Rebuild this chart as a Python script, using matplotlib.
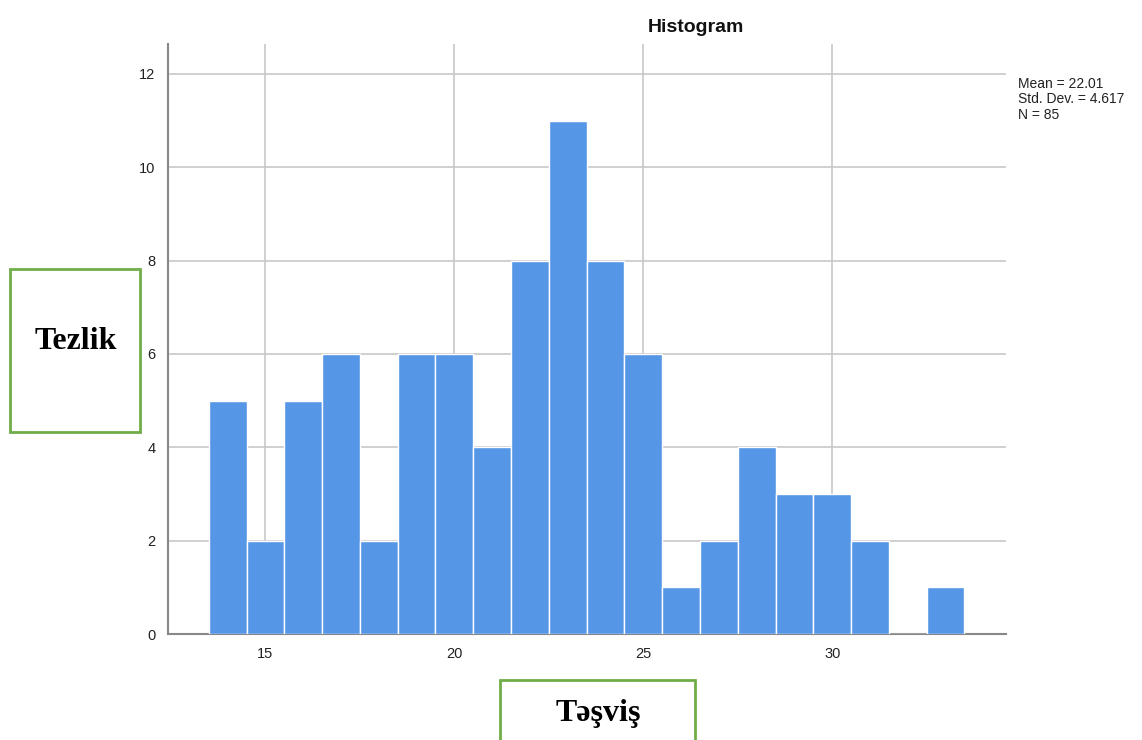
import numpy as np
import matplotlib.pyplot as plt
from matplotlib.patches import Rectangle

# histogram bins (centres) and counts
bin_centres = [14, 15, 16, 17, 18, 19, 20, 21, 22, 23, 24, 25, 26, 27, 28, 29, 30, 31, 32, 33]
counts = [5, 2, 5, 6, 2, 6, 6, 4, 8, 11, 8, 6, 1, 2, 4, 3, 3, 2, 0, 1]
x_ticks = [15, 20, 25, 30]
y_ticks = [0, 2, 4, 6, 8, 10, 12]
stats_text = "Mean = 22.01\nStd. Dev. = 4.617\nN = 85"

plt.rcParams['font.family'] = ['Liberation Sans', 'DejaVu Sans']

W, H = 1142, 740
fig = plt.figure(figsize=(W / 100, H / 100), dpi=100)
ax = fig.add_axes([168 / W, 1 - 634 / H, (1006 - 168) / W, (634 - 44) / H])

ax.bar(bin_centres, counts, width=1.0, color='#5596e6', edgecolor='white',
       linewidth=1.0, zorder=3)

ax.set_xlim(12.42, 34.6)
ax.set_ylim(0, 12.64)
ax.set_xticks(x_ticks)
ax.set_yticks(y_ticks)
ax.grid(True, color='#c8c8c8', linewidth=1.2, zorder=0)
ax.tick_params(length=0, labelsize=10.5, colors='#222222', pad=9)
for s in ['top', 'right']:
    ax.spines[s].set_visible(False)
for s in ['left', 'bottom']:
    ax.spines[s].set_color('#888888')
    ax.spines[s].set_linewidth(1.5)

fig.text(696 / W, 1 - 28 / H, 'Histogram', ha='center', va='center',
         fontsize=14, fontweight='bold', color='#111111')
fig.text(1018 / W, 1 - 77 / H, stats_text, ha='left', va='top',
         fontsize=10, linespacing=1.12, color='#222222')

# green label boxes
green = '#70ad47'
fig.patches.append(Rectangle((10 / W, 1 - 432 / H), 130 / W, 163 / H,
                             transform=fig.transFigure, fill=False,
                             edgecolor=green, linewidth=2))
fig.patches.append(Rectangle((500 / W, 1 - 745 / H), 195 / W, 65 / H,
                             transform=fig.transFigure, fill=False,
                             edgecolor=green, linewidth=2, clip_on=False))
fig.text(76 / W, 1 - 342 / H, 'Tezlik', ha='center', va='center',
         fontsize=23, fontweight='bold', family='Liberation Serif')
fig.text(598 / W, 1 - 713 / H, 'Təşviş', ha='center', va='center',
         fontsize=23, fontweight='bold', family=['Liberation Serif', 'DejaVu Serif'])

fig.savefig('out.png', dpi=100)
